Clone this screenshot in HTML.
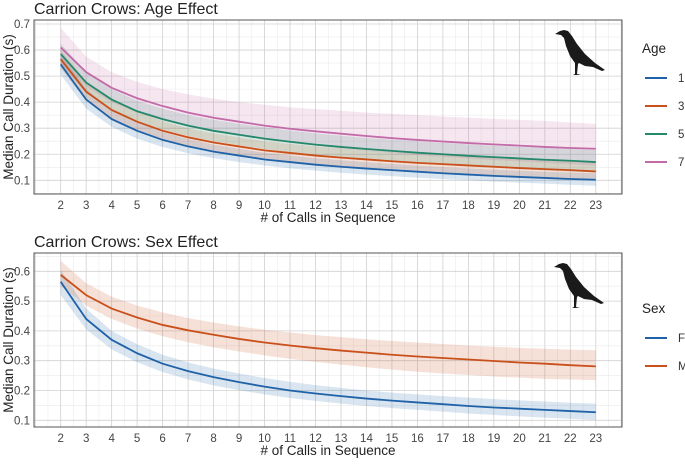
<!DOCTYPE html>
<html><head><meta charset="utf-8"><style>
body{margin:0;background:#fff;font-family:"Liberation Sans",sans-serif}
svg text{font-family:"Liberation Sans",sans-serif}
</style></head><body>
<svg id="c" width="685" height="459" xmlns="http://www.w3.org/2000/svg"></svg>
<script>
const calls=[2,3,4,5,6,7,8,9,10,11,12,13,14,15,16,17,18,19,20,21,22,23];
const ageLabels=["1","3","5","7"];
const age1=[0.545,0.41,0.335,0.29,0.255,0.23,0.21,0.195,0.18,0.17,0.16,0.152,0.145,0.139,0.133,0.127,0.122,0.117,0.113,0.109,0.105,0.102];
const age1Lo=[0.505,0.375,0.305,0.26,0.228,0.204,0.185,0.17,0.157,0.146,0.137,0.129,0.122,0.116,0.11,0.105,0.1,0.095,0.091,0.087,0.083,0.079];
const age1Hi=[0.585,0.45,0.37,0.322,0.285,0.258,0.237,0.221,0.206,0.195,0.185,0.177,0.17,0.163,0.157,0.151,0.146,0.141,0.137,0.133,0.13,0.127];
const age3=[0.565,0.44,0.37,0.325,0.29,0.265,0.245,0.23,0.215,0.205,0.195,0.187,0.18,0.173,0.167,0.162,0.157,0.152,0.147,0.143,0.139,0.134];
const age3Lo=[0.53,0.405,0.335,0.29,0.257,0.232,0.213,0.197,0.183,0.172,0.162,0.154,0.147,0.14,0.134,0.129,0.124,0.119,0.115,0.111,0.107,0.104];
const age3Hi=[0.6,0.48,0.41,0.365,0.327,0.3,0.28,0.265,0.25,0.24,0.23,0.222,0.215,0.208,0.202,0.197,0.192,0.187,0.182,0.178,0.174,0.17];
const age5=[0.585,0.475,0.41,0.365,0.335,0.31,0.29,0.275,0.26,0.248,0.237,0.228,0.22,0.213,0.206,0.2,0.194,0.189,0.184,0.179,0.175,0.17];
const age5Lo=[0.545,0.435,0.37,0.325,0.295,0.27,0.25,0.235,0.22,0.208,0.197,0.188,0.18,0.172,0.165,0.159,0.153,0.148,0.143,0.138,0.134,0.13];
const age5Hi=[0.625,0.515,0.45,0.405,0.375,0.35,0.332,0.317,0.303,0.291,0.28,0.271,0.263,0.256,0.25,0.244,0.238,0.233,0.228,0.224,0.22,0.216];
const age7=[0.61,0.515,0.455,0.415,0.385,0.36,0.34,0.325,0.31,0.298,0.288,0.279,0.27,0.262,0.255,0.249,0.243,0.238,0.233,0.228,0.224,0.221];
const age7Lo=[0.55,0.46,0.4,0.36,0.33,0.305,0.285,0.27,0.255,0.243,0.232,0.222,0.213,0.205,0.197,0.19,0.184,0.178,0.172,0.167,0.162,0.157];
const age7Hi=[0.685,0.575,0.515,0.478,0.45,0.43,0.413,0.4,0.39,0.38,0.373,0.367,0.36,0.355,0.35,0.345,0.34,0.336,0.332,0.328,0.322,0.316];
const sexLabels=["F","M"];
const sexF=[0.565,0.44,0.37,0.325,0.29,0.265,0.245,0.228,0.213,0.2,0.19,0.181,0.173,0.166,0.16,0.154,0.148,0.143,0.139,0.135,0.131,0.127];
const sexFLo=[0.52,0.405,0.338,0.295,0.262,0.237,0.217,0.201,0.187,0.175,0.165,0.156,0.148,0.141,0.135,0.129,0.123,0.118,0.113,0.109,0.105,0.101];
const sexFHi=[0.605,0.475,0.4,0.355,0.32,0.294,0.274,0.257,0.242,0.229,0.218,0.209,0.2,0.193,0.187,0.181,0.176,0.171,0.167,0.163,0.159,0.156];
const sexM=[0.588,0.52,0.475,0.445,0.42,0.402,0.387,0.373,0.361,0.351,0.342,0.334,0.327,0.32,0.314,0.309,0.304,0.299,0.294,0.29,0.285,0.281];
const sexMLo=[0.55,0.485,0.44,0.408,0.382,0.362,0.345,0.331,0.318,0.306,0.296,0.287,0.278,0.27,0.263,0.257,0.252,0.247,0.243,0.239,0.237,0.235];
const sexMHi=[0.635,0.56,0.515,0.485,0.462,0.443,0.428,0.415,0.404,0.395,0.386,0.379,0.372,0.366,0.361,0.356,0.351,0.347,0.343,0.34,0.337,0.335];
const yTicksTop=[0.1,0.2,0.3,0.4,0.5,0.6,0.7];
const yTicksBot=[0.1,0.2,0.3,0.4,0.5,0.6];

const NS="http://www.w3.org/2000/svg";
const svg=document.getElementById('c');
function mk(tag,attrs,parent,txt){const e=document.createElementNS(NS,tag);for(const k in attrs)e.setAttribute(k,attrs[k]);if(txt!==undefined)e.textContent=txt;(parent||svg).appendChild(e);return e;}

function panel(o){
  const g=mk('g',{});
  
  
  const L=34,R=622,T=o.top,B=o.bottom;
  const xs=v=>60.7+(v-2)*25.48;
  const ys=v=>o.y01-(v-0.1)*o.ppu;
  const t=mk('text',{x:34,y:T-6,'font-size':16,fill:'#222'},g,o.title);
  
  mk('rect',{x:L,y:T,width:R-L,height:B-T,fill:'#fff'},g);
  for(let v=1.5;v<=24;v+=1){const x=xs(v);if(x>L&&x<R)mk('line',{x1:x,x2:x,y1:T,y2:B,stroke:'#ebebeb','stroke-width':0.6},g);}
  for(let v=0.05;v<0.75;v+=0.1){const y=ys(v);if(y>T&&y<B)mk('line',{x1:L,x2:R,y1:y,y2:y,stroke:'#ebebeb','stroke-width':0.6},g);}
  for(let v=1;v<=24;v++){const x=xs(v);if(x>L&&x<R)mk('line',{x1:x,x2:x,y1:T,y2:B,stroke:'#d0d0d0','stroke-width':0.8},g);}
  o.yTicks.forEach(v=>{const y=ys(v);mk('line',{x1:L,x2:R,y1:y,y2:y,stroke:'#d0d0d0','stroke-width':0.8},g);
    const tl=mk('text',{x:L-4,y:y+4,'font-size':11.5,fill:'#444','text-anchor':'end'},g,v.toFixed(1));
    });
  calls.forEach(v=>{const tl=mk('text',{x:xs(v),y:B+15,'font-size':11.5,fill:'#444','text-anchor':'middle'},g,String(v));
    });
  o.series.forEach(s=>{
    let d='M'+calls.map((c,i)=>xs(c)+','+ys(s.hi[i])).join('L');
    for(let i=calls.length-1;i>=0;i--)d+='L'+xs(calls[i])+','+ys(s.lo[i]);
    const r=mk('path',{d:d+'Z',fill:s.color,'fill-opacity':0.17,stroke:'none'},g);
    
  });
  o.series.forEach(s=>{
    const p=mk('path',{d:'M'+calls.map((c,i)=>xs(c)+','+ys(s.v[i])).join('L'),fill:'none',stroke:s.color,'stroke-width':1.8},g);
    
  });
  mk('rect',{x:L,y:T,width:R-L,height:B-T,fill:'none',stroke:'#555','stroke-width':1},g);
  const xt=mk('text',{x:328,y:B+28,'font-size':13.5,fill:'#222','text-anchor':'middle'},g,'# of Calls in Sequence');
  
  const cy=(T+B)/2;
  const yt=mk('text',{x:0,y:0,'font-size':13.5,fill:'#222','text-anchor':'middle',transform:'translate(13,'+cy+') rotate(-90)'},g,'Median Call Duration (s)');
  
  const cx=o.crowX,c0=o.crowY;
  const pts=[[0,4],[5,1],[9,0],[13,1],[17,6],[22,14],[30,24],[40,33],[50,40],[47,41],[38,37],[30,36],[24,33],[23,34],[22,44],[26,45],[18,45],[20,44],[20,33],[15,26],[11,16],[9,8],[6,5]];
  const crow=mk('path',{fill:'#1a1a1a',d:'M'+pts.map(p=>(cx+p[0])+','+(c0+p[1])).join('L')+'Z'},g);
  
  const lt=mk('text',{x:642,y:o.legY,'font-size':13.5,fill:'#222'},g,o.legTitle);
  
  o.series.forEach((s,i)=>{
    const y=o.legY+25+i*28;
    const le=mk('g',{},g);
    
    mk('line',{x1:645,x2:667,y1:y,y2:y,stroke:s.color,'stroke-width':2},le);
    mk('text',{x:678,y:y+4,'font-size':11.5,fill:'#333'},le,s.label);
  });
}
const C={b:'#1f62a8',o:'#c9501a',g:'#23896a',p:'#c36aa8'};
panel({name:'age-effect-panel',title:'Carrion Crows: Age Effect',top:20,bottom:194,y01:180.3,ppu:260.5,yTicks:yTicksTop,
  crowX:555,crowY:30,legTitle:'Age',legY:53,
  series:[{label:ageLabels[0],v:age1,lo:age1Lo,hi:age1Hi,color:C.b},{label:ageLabels[1],v:age3,lo:age3Lo,hi:age3Hi,color:C.o},
          {label:ageLabels[2],v:age5,lo:age5Lo,hi:age5Hi,color:C.g},{label:ageLabels[3],v:age7,lo:age7Lo,hi:age7Hi,color:C.p}]});
panel({name:'sex-effect-panel',title:'Carrion Crows: Sex Effect',top:253,bottom:427,y01:420.3,ppu:298,yTicks:yTicksBot,
  crowX:554,crowY:263,legTitle:'Sex',legY:313,
  series:[{label:sexLabels[0],v:sexF,lo:sexFLo,hi:sexFHi,color:C.b},{label:sexLabels[1],v:sexM,lo:sexMLo,hi:sexMHi,color:C.o}]});
</script>
</body></html>
